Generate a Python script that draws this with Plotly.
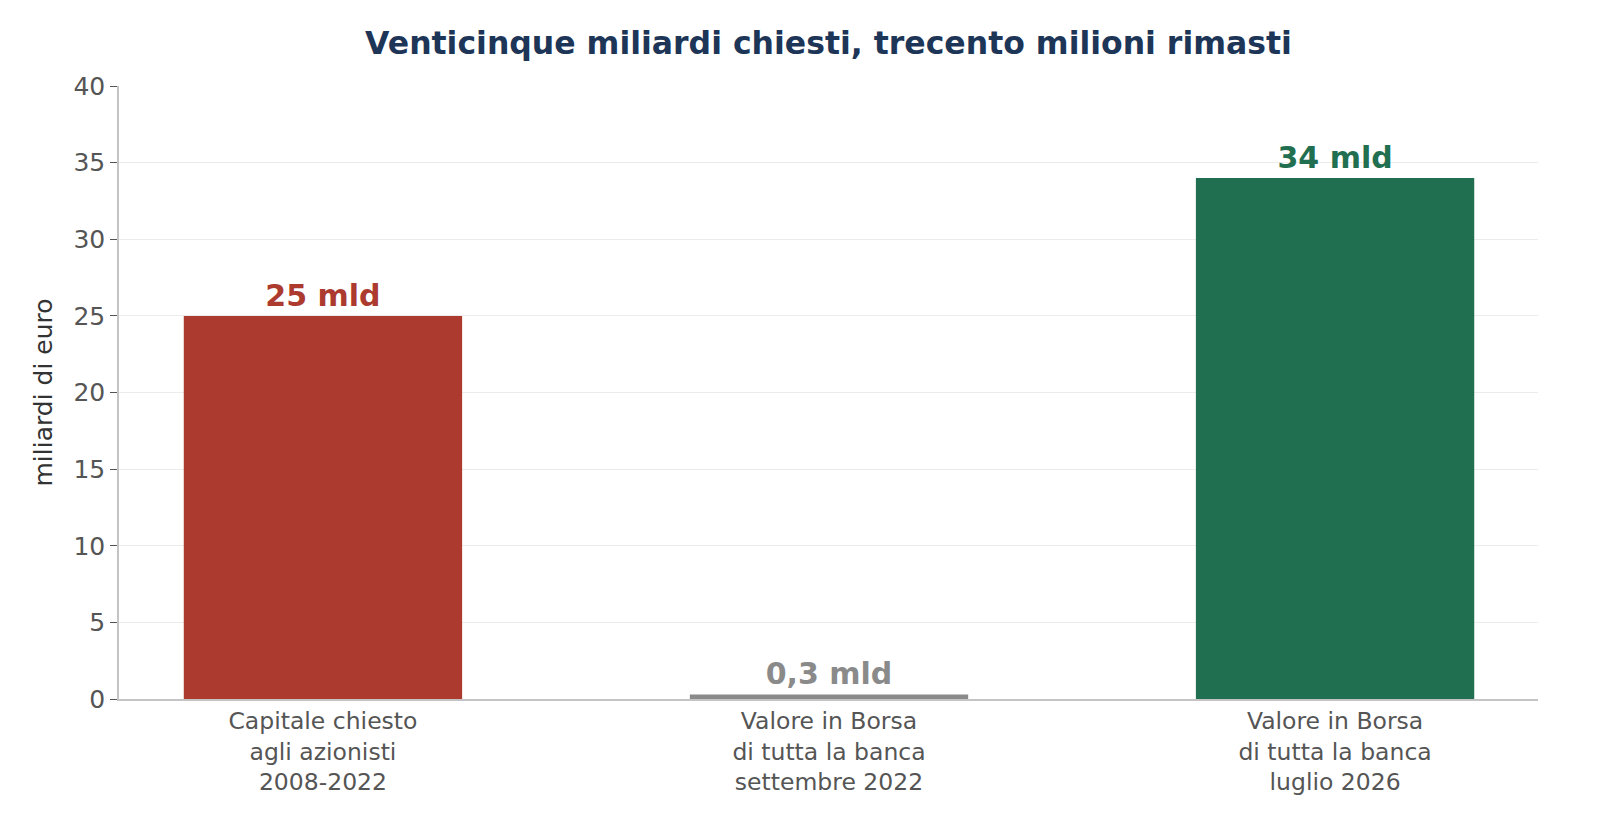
import plotly.graph_objs as go

categories = ["Capitale chiesto<br>agli azionisti<br>2008-2022",
              "Valore in Borsa<br>di tutta la banca<br>settembre 2022",
              "Valore in Borsa<br>di tutta la banca<br>luglio 2026"]
values = [25, 0.3, 34]
value_labels = ["25 mld", "0,3 mld", "34 mld"]
bar_colors = ["#ac3a2f", "#8a8a8a", "#1f6f50"]
y_ticks = [0, 5, 10, 15, 20, 25, 30, 35, 40]

font_family = "DejaVu Sans"

trace = go.Bar(
    x=[0, 1, 2],
    y=values,
    width=0.55,
    marker={"color": bar_colors, "line": {"width": 0}},
    text=["<b>" + t + "</b>" for t in value_labels],
    textposition="outside",
    textfont={"family": font_family, "size": 30, "color": bar_colors},
    cliponaxis=False,
    hoverinfo="skip",
)

# page body has an 8px margin, so the figure is sized to fit the window
layout = go.Layout(
    width=1584, height=824,
    paper_bgcolor="white", plot_bgcolor="white",
    margin={"l": 111, "r": 54, "t": 78, "b": 133},
    showlegend=False,
    title={"text": "<b>Venticinque miliardi chiesti, trecento milioni rimasti</b>",
           "x": 0.5, "xref": "paper", "xanchor": "center",
           "y": 0.957, "yanchor": "middle",
           "font": {"family": font_family, "size": 31.5, "color": "#1d3557"}},
    font={"family": font_family},
    xaxis={
        "range": [-0.403, 2.401],
        "tickvals": [0, 1, 2],
        "ticktext": categories,
        "tickfont": {"size": 23.5, "color": "#555555"},
        "showgrid": False,
        "zeroline": False,
        "showline": True, "linecolor": "#c4c4c4", "linewidth": 1.5,
        "ticks": "",
    },
    yaxis={
        "range": [0, 40],
        "tickvals": y_ticks,
        "tickfont": {"size": 25, "color": "#555555"},
        "showgrid": True, "gridcolor": "#ececec", "gridwidth": 1.2,
        "zeroline": False,
        "showline": True, "linecolor": "#c4c4c4", "linewidth": 1.5,
        "ticks": "outside", "ticklen": 7, "tickcolor": "#555555",
        "title": {"text": "miliardi di euro", "font": {"size": 25, "color": "#333333"},
                  "standoff": 14},
    },
)

fig = go.Figure([trace], layout)
fig.write_html("out.html")
